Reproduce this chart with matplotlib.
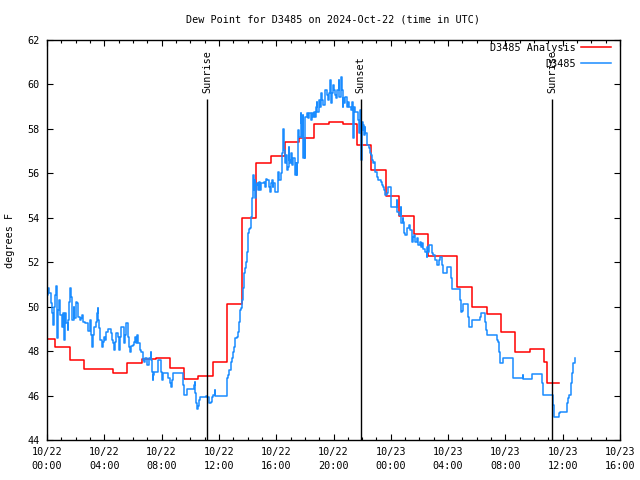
import matplotlib
matplotlib.use("Agg")
import matplotlib.pyplot as plt
from matplotlib.ticker import MultipleLocator

plt.rcParams['font.family'] = ['DejaVu Sans Mono']

# ---- data (hours since 2024-10-22 00:00 UTC) ----
red_hours = [0, 0.56, 1.61, 2.6, 4.59, 5.56, 6.61, 7.61, 8.59, 9.58, 10.56, 11.61,
             12.6, 13.59, 14.62, 15.62, 16.61, 17.6, 18.62, 19.66, 20.65, 21.64,
             22.65, 23.64, 24.6, 25.65, 26.62, 28.64, 29.65, 30.7, 31.67, 32.67,
             33.72, 34.66, 34.87, 35.74]
red_values = [48.53, 48.2, 47.6, 47.2, 47.0, 47.45, 47.65, 47.7, 47.25, 46.75, 46.9, 47.5,
              50.1, 54.0, 56.45, 56.8, 57.4, 57.6, 58.2, 58.3, 58.2, 57.27,
              56.15, 55.0, 54.1, 53.27, 52.3, 50.87, 49.97, 49.67, 48.85, 47.95,
              48.1, 47.5, 46.55, 46.55]

blue_hours = [
    0.00, 0.05, 0.14, 0.28, 0.37, 0.42, 0.47, 0.56, 0.63, 0.67, 0.72, 0.79, 0.86, 0.93,
    1.02, 1.09, 1.16, 1.26, 1.35, 1.44, 1.49, 1.56, 1.63, 1.68, 1.72, 1.77, 1.86, 1.91,
    2.00, 2.09, 2.19, 2.28, 2.37, 2.47, 2.54, 2.65, 2.89, 2.98, 3.03, 3.07, 3.12, 3.21,
    3.30, 3.40, 3.49, 3.54, 3.58, 3.65, 3.72, 3.82, 3.89, 3.96, 4.05, 4.14, 4.24, 4.47,
    4.51, 4.58, 4.65, 4.72, 4.79, 4.93, 5.03, 5.10, 5.17, 5.35, 5.45, 5.49, 5.68, 5.72,
    5.79, 5.86,
    5.98, 6.07, 6.14, 6.21, 6.26, 6.35, 6.49, 6.56, 6.68, 6.77, 6.86, 6.96, 7.14, 7.24,
    7.28, 7.33, 7.38, 7.42, 7.47, 7.77, 7.98, 8.03, 8.12, 8.42, 8.59, 8.68, 8.73, 8.77,
    9.52, 9.56, 9.75, 10.26, 10.31, 10.36, 10.40, 10.45, 10.52, 10.59, 10.68, 11.10,
    11.19, 11.33, 11.43, 11.50, 11.61, 11.71, 11.75,
    12.54, 12.59, 12.66, 12.73, 12.82, 12.89, 12.96, 13.05, 13.12, 13.24, 13.36, 13.43,
    13.47, 13.54, 13.61, 13.66, 13.71, 13.75, 13.82, 13.87, 13.94, 14.01, 14.05, 14.12,
    14.19, 14.24, 14.31, 14.36, 14.40, 14.45, 14.50, 14.54, 14.59, 14.68, 14.75, 14.82,
    14.87, 14.96, 15.15, 15.22, 15.29, 15.38, 15.52, 15.57, 15.61, 15.68, 15.75, 15.80,
    15.92, 16.15, 16.22, 16.31, 16.38, 16.43, 16.475, 16.545, 16.61, 16.68, 16.73, 16.80,
    16.87, 16.92, 16.96, 17.06, 17.10, 17.20, 17.29, 17.34, 17.38,
    17.43, 17.48, 17.55, 17.615, 17.71, 17.755, 17.80, 17.85, 17.89, 17.94, 17.99, 18.03,
    18.13, 18.22, 18.31, 18.41, 18.50, 18.59, 18.66, 18.73, 18.78, 18.82, 18.87, 18.96,
    19.06, 19.10, 19.20, 19.29, 19.38, 19.43, 19.52, 19.62, 19.66, 19.76, 19.80, 19.87,
    19.94, 20.03, 20.08, 20.17, 20.27, 20.36, 20.41, 20.50, 20.57, 20.64, 20.69, 20.73,
    20.83, 20.92, 21.01, 21.11, 21.20, 21.27, 21.34, 21.39, 21.45, 21.52, 21.62, 21.71,
    21.76, 21.80,
    21.85, 21.90, 21.97, 22.04, 22.08, 22.13, 22.18, 22.22, 22.32, 22.36, 22.455, 22.55,
    22.62, 22.66, 22.78, 22.83, 22.87, 22.92, 23.06, 23.13, 23.29, 23.39, 23.48, 23.55,
    23.62, 23.71, 23.83, 23.99, 24.04, 24.41, 24.46, 24.60, 24.69, 24.74, 24.83, 24.87,
    24.94, 25.01, 25.11, 25.29, 25.34, 25.46, 25.53, 25.62, 25.69, 25.81, 25.92, 26.04,
    26.11, 26.18, 26.27, 26.41, 26.50, 26.55, 26.60, 26.69, 26.85, 26.97, 27.09, 27.20,
    27.34, 27.43, 27.55, 27.57, 27.67, 27.95, 28.18, 28.23,
    28.25, 28.83, 28.87, 28.97, 29.06, 29.41, 29.48, 29.64, 30.22, 30.29, 30.57, 30.64,
    30.74, 31.39, 31.50, 31.57, 31.62, 31.81, 32.50, 32.55, 33.20, 33.25, 33.83, 34.58,
    34.65, 35.34, 35.41, 35.76, 35.81, 36.27, 36.32, 36.39, 36.46, 36.55, 36.60, 36.67,
    36.74, 36.83]
blue_values = [
    50.52, 50.83, 50.6, 50.15, 49.7, 49.18, 50.0, 50.52, 50.93, 49.55, 48.58, 49.85, 50.3, 49.63,
    49.1, 49.7, 48.5, 49.7, 49.25, 48.95, 49.4, 50.22, 50.83, 50.45, 49.7, 49.4, 50.0, 49.48,
    50.22, 50.15, 49.55, 49.4, 49.48, 49.63, 49.33, 49.25, 48.92, 49.18, 49.4, 48.73, 48.2, 48.73,
    49.1, 49.33, 49.7, 49.93, 49.4, 49.03, 48.5, 48.2, 48.43, 48.65, 48.5, 48.88, 48.98, 48.8,
    48.5, 48.35, 48.05, 48.43, 48.8, 48.65, 48.05, 48.65, 49.1, 48.35, 48.73, 49.28, 48.65, 48.2,
    47.98, 48.23,
    48.28, 48.43, 48.65, 48.35, 48.73, 48.35, 48.05, 47.98, 47.6, 47.53, 47.68, 47.38, 47.68, 47.98,
    47.6, 47.08, 46.7, 46.93, 47.08, 47.6, 47.08, 46.7, 47.0, 46.78, 46.55, 46.4, 46.7, 47.0,
    46.48, 46.03, 46.28, 46.48, 46.63, 46.1, 45.65, 45.38, 45.53, 45.8, 45.92, 45.98,
    45.92, 45.68, 45.73, 45.92, 46.03, 46.25, 45.98,
    46.33, 46.78, 46.93, 47.15, 47.53, 47.68, 47.98, 48.2, 48.58, 48.65, 48.88, 49.33,
    49.85, 49.93, 50.3, 50.68, 50.83, 51.5, 51.73, 52.03, 52.48, 52.78, 53.3, 53.48,
    53.53, 54.05, 54.88, 55.7, 55.93, 55.25, 55.7, 54.88, 55.48, 55.55, 55.25, 55.63,
    55.25, 55.55, 55.63, 55.4, 55.73, 55.7, 55.4, 55.18, 55.55, 55.7, 55.4, 55.55,
    55.18, 56.08, 55.7, 56.0, 56.15, 56.9, 58.0, 57.05, 56.45, 56.83, 56.15, 56.3,
    57.2, 56.6, 56.45, 56.9, 56.38, 56.68, 56.45, 55.93, 56.45,
    55.93, 56.45, 57.95, 57.65, 58.7, 58.25, 57.65, 58.63, 56.68, 57.5, 56.68, 58.55,
    58.7, 58.48, 58.7, 58.4, 58.7, 58.55, 58.78, 58.55, 59.0, 59.23, 58.78, 59.3,
    59.0, 59.6, 59.3, 59.08, 59.6, 59.75, 59.53, 59.3, 59.6, 60.2, 59.15, 59.6,
    59.98, 59.75, 59.53, 59.38, 59.75, 60.2, 59.45, 60.35, 59.75, 59.0, 59.38, 59.15,
    59.45, 59.0, 59.23, 59.0, 58.85, 59.23, 58.93, 57.6, 59.0, 58.78, 58.78, 58.4,
    58.25, 57.8,
    58.85, 56.6, 58.33, 57.95, 58.18, 57.73, 58.1, 57.8, 57.58, 57.28, 57.13, 56.9,
    56.83, 56.6, 56.45, 56.53, 56.3, 56.08, 55.85, 55.7, 55.63, 55.48, 55.4, 55.25,
    55.03, 55.1, 55.4, 55.03, 54.5, 54.8, 54.28, 54.13, 54.5, 53.75, 53.98, 53.83,
    53.3, 53.23, 53.53, 53.68, 53.45, 52.93, 53.15, 53.23, 52.93, 53.08, 52.78, 52.93,
    52.67, 52.85, 52.58, 52.48, 52.25, 52.7, 52.48, 52.78, 52.4, 52.33, 52.1, 51.88,
    52.1, 52.25, 52.18, 51.88, 51.5, 51.8, 51.5, 51.28,
    50.78, 50.3, 49.78, 49.82, 50.12, 49.55, 49.1, 49.4, 49.52, 49.7, 49.33, 48.95,
    48.73, 48.5, 48.43, 47.98, 47.48, 47.68, 47.3, 46.78, 46.93, 46.73, 46.97, 46.55,
    46.03, 45.58, 45.05, 45.2, 45.28, 45.35, 45.65, 45.88, 46.03, 46.25, 46.55, 47.0,
    47.45, 47.68]

sun_events = [11.2, 21.9, 35.27]
sun_labels = ["Sunrise", "Sunset", "Sunrise"]

x_ticks = [0, 4, 8, 12, 16, 20, 24, 28, 32, 36, 40]
x_tick_labels = ["10/22\n00:00", "10/22\n04:00", "10/22\n08:00", "10/22\n12:00",
                 "10/22\n16:00", "10/22\n20:00", "10/23\n00:00", "10/23\n04:00",
                 "10/23\n08:00", "10/23\n12:00", "10/23\n16:00"]
y_ticks = [44, 46, 48, 50, 52, 54, 56, 58, 60, 62]

title = "Dew Point for D3485 on 2024-Oct-22 (time in UTC)"

# ---- figure ----
W, H = 640, 480
fig = plt.figure(figsize=(6.4, 4.8), dpi=100)
ax = fig.add_axes([47 / W, 40 / H, 573 / W, 400 / H])
fs = 7.3

ax.plot(red_hours, red_values, drawstyle='steps-post', color='#ff0000', lw=1.1,
        label='D3485 Analysis')
ax.plot(blue_hours, blue_values, drawstyle='steps-post', color='#1a8cff', lw=1.1,
        label='D3485')

ax.vlines(sun_events, 44, 59.33, color='black', lw=1.0)
for t, lab in zip(sun_events, sun_labels):
    ax.text(t, 59.62, lab, rotation=90, ha='center', va='bottom', fontsize=fs)

ax.set_xlim(0, 40)
ax.set_ylim(44, 62)
ax.set_xticks(x_ticks)
ax.set_xticklabels(x_tick_labels, fontsize=fs, linespacing=1.45)
ax.xaxis.set_minor_locator(MultipleLocator(1))
ax.set_yticks(y_ticks)
ax.set_yticklabels([str(v) for v in y_ticks], fontsize=fs)
ax.tick_params(which='major', direction='in', length=4.5, width=0.8,
               top=True, right=True)
ax.tick_params(which='minor', direction='in', length=2.3, width=0.8,
               top=True, right=True)
ax.tick_params(axis='x', which='major', pad=5)
ax.tick_params(axis='y', which='major', pad=5)
for s in ax.spines.values():
    s.set_linewidth(1.0)

fig.text(333.5 / W, 1 - 20 / H, title, ha='center', va='center', fontsize=fs)
fig.text(10 / W, 0.5, "degrees F", rotation=90, ha='center', va='center', fontsize=fs)

ax.legend(loc='upper right', bbox_to_anchor=(611 / W, 1 - 43 / H),
          bbox_transform=fig.transFigure, frameon=False, markerfirst=False,
          fontsize=fs, handlelength=3.0, handletextpad=0.5, borderpad=0,
          borderaxespad=0, labelspacing=0.55)

fig.savefig("out.png", dpi=100)
